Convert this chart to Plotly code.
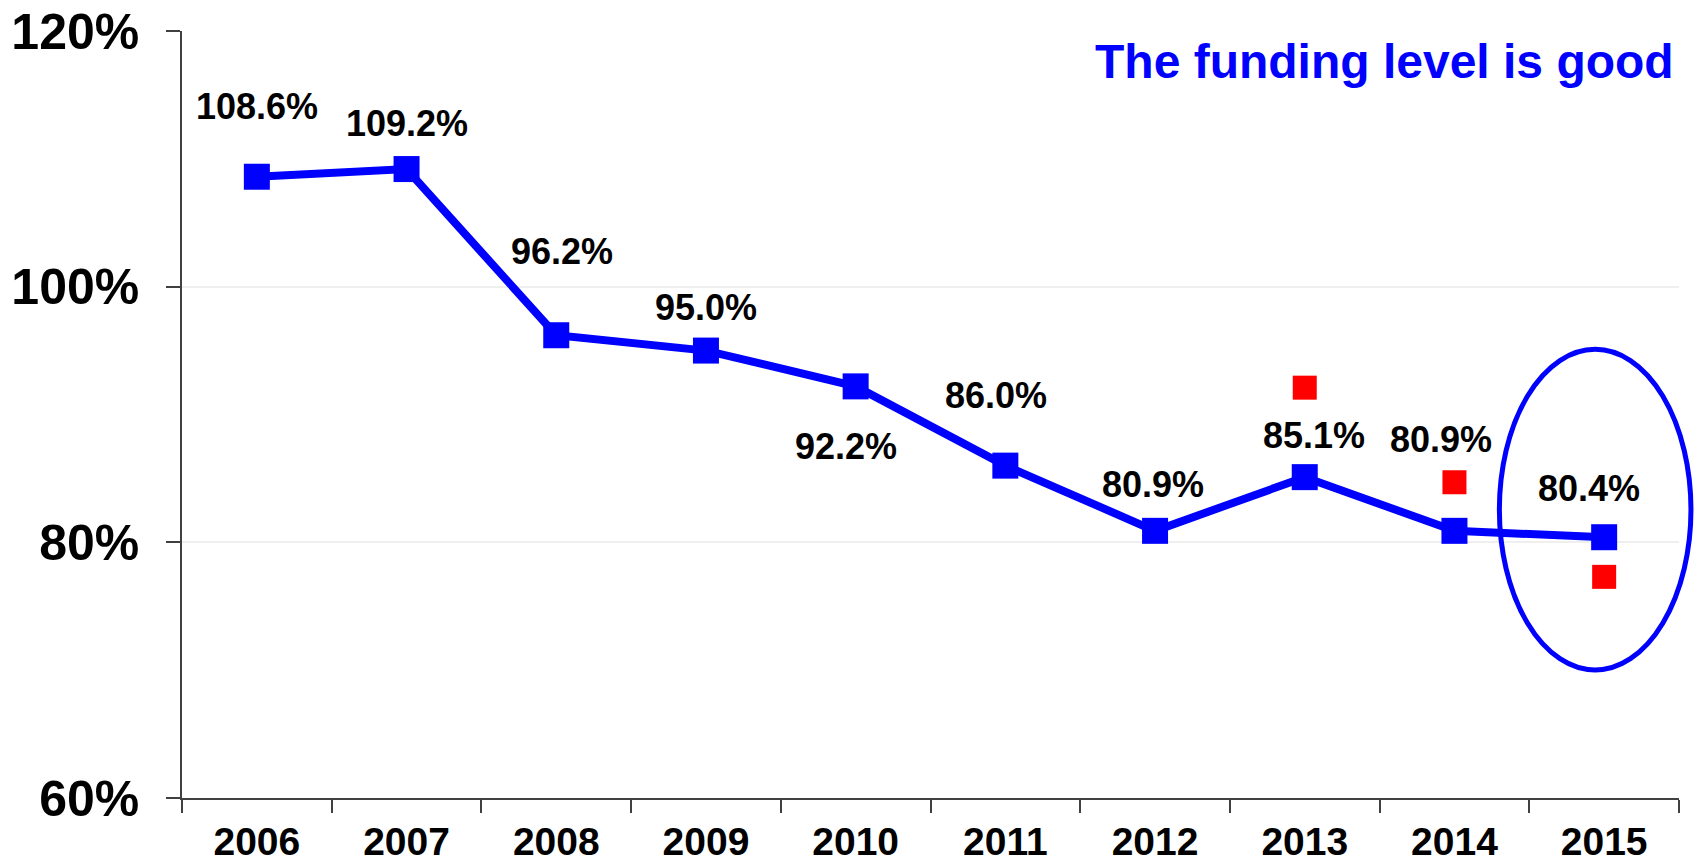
import plotly.graph_objects as go

years = ["2006", "2007", "2008", "2009", "2010", "2011", "2012", "2013", "2014", "2015"]
funding = [108.6, 109.2, 96.2, 95.0, 92.2, 86.0, 80.9, 85.1, 80.9, 80.4]
red_years = ["2013", "2014", "2015"]
red_values = [92.1, 84.7, 77.3]
y_ticks = [60, 80, 100, 120]
title_text = "The funding level is good"

# label offsets in pixels (dx, dy) relative to each marker
label_dx = [0, 0, 6, 0, -10, -9, -2, 9, -13, -15]
label_dy = [70, 46, 84, 43, -60, 70, 46, 42, 91, 49]

xi = [years.index(y) for y in years]
xr = [years.index(y) for y in red_years]

BLUE = "#0000FF"
fig = go.Figure()
fig.add_trace(go.Scatter(
    x=xi, y=funding, mode="lines+markers",
    line=dict(color=BLUE, width=8),
    marker=dict(symbol="square", size=26, color=BLUE),
    showlegend=False))
fig.add_trace(go.Scatter(
    x=xr, y=red_values, mode="markers",
    marker=dict(symbol="square", size=24, color="#FF0000"),
    showlegend=False))

for i, v in enumerate(funding):
    fig.add_annotation(x=xi[i], y=v, text=f"{v:.1f}%", showarrow=False,
                       xshift=label_dx[i], yshift=label_dy[i],
                       font=dict(family="Liberation Sans", size=36, color="#000000", weight="bold"))

fig.add_annotation(xref="paper", yref="paper", x=0.998, y=0.96, xanchor="right", yanchor="middle",
                   text=title_text, showarrow=False,
                   font=dict(family="Liberation Sans", size=48, color=BLUE, weight="bold"))

# highlight ellipse around the last year (paper coords so it can extend past the plot edge)
fig.add_shape(type="circle", xref="paper", yref="paper", x0=0.880, x1=1.008, y0=0.167, y1=0.585,
              line=dict(color=BLUE, width=5), fillcolor="rgba(0,0,0,0)")

fig.update_layout(
    width=1697, height=863,
    margin=dict(l=182, r=18, t=31, b=65),
    paper_bgcolor="white", plot_bgcolor="white",
    font=dict(family="Liberation Sans", color="#000000"),
)
fig.update_xaxes(
    range=[-0.5, len(years) - 0.5], tickvals=xi, ticktext=years,
    showline=True, linecolor="#404040", linewidth=1.5,
    ticks="", showgrid=False, zeroline=False, automargin=False,
    minor=dict(tick0=-0.5, dtick=1, ticks="outside", ticklen=13, tickcolor="#404040",
               tickwidth=1.5, showgrid=False),
    tickfont=dict(family="Liberation Sans", size=39, color="#000000", weight="bold"),
    ticklabelstandoff=8, tickangle=0,
)
fig.update_yaxes(
    range=[60, 120], tickvals=y_ticks, ticktext=[f"{t}%" for t in y_ticks],
    showline=True, linecolor="#404040", linewidth=1.5, automargin=False,
    ticks="outside", ticklen=14, tickcolor="#404040", tickwidth=1.5,
    showgrid=True, gridcolor="#EFEFEF", gridwidth=1.5, zeroline=False,
    tickfont=dict(family="Liberation Sans", size=50, color="#000000", weight="bold"),
    ticklabelstandoff=17,
)
fig.write_html("out.html", config={"displayModeBar": False},
               post_script="document.body.style.margin='0';document.body.style.overflow='hidden';")
